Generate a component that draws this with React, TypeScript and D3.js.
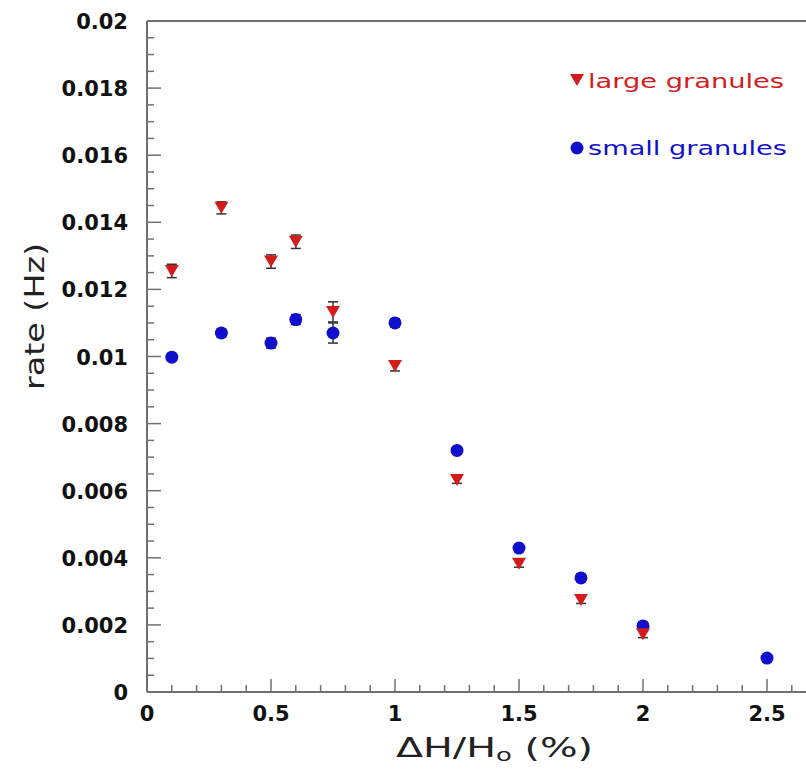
import React from "react";
import * as d3 from "d3";

const xLarge = [0.1, 0.3, 0.5, 0.6, 0.75, 1.0, 1.25, 1.5, 1.75, 2.0];
const yLarge = [0.01255, 0.01443, 0.01283, 0.01342, 0.01133, 0.00972, 0.00632, 0.00382, 0.00274, 0.00172];
const eLarge = [0.0002, 0.00018, 0.0002, 0.0002, 0.0003, 0.00015, 0.0001, 0.0001, 0.0001, 0.0001];

const xSmall = [0.1, 0.3, 0.5, 0.6, 0.75, 1.0, 1.25, 1.5, 1.75, 2.0, 2.5];
const ySmall = [0.00998, 0.0107, 0.0104, 0.0111, 0.0107, 0.011, 0.0072, 0.00429, 0.0034, 0.00197, 0.00101];
const eSmall = [0.0001, 0.00012, 0.00015, 0.00015, 0.0003, 0.00012, 0.0001, 0.0001, 0.0001, 0.0001, 0.0001];

const xTickValues = [0, 0.5, 1, 1.5, 2, 2.5];
const xTickLabels = ["0", "0.5", "1", "1.5", "2", "2.5"];
const yTickValues = [0, 0.002, 0.004, 0.006, 0.008, 0.01, 0.012, 0.014, 0.016, 0.018, 0.02];
const yTickLabels = ["0", "0.002", "0.004", "0.006", "0.008", "0.01", "0.012", "0.014", "0.016", "0.018", "0.02"];

const legendLabels = ["large granules", "small granules"];

const W = 806;
const H = 770;
const RED = "#d41c1c";
const BLUE = "#1010cc";
const AXIS = "#707070";

export default function App() {
  const x = d3.scaleLinear().domain([0, 2.7]).range([147, 147 + 2.7 * 248]);
  const y = d3.scaleLinear().domain([0, 0.02]).range([692, 21]);

  const xMinor = d3.range(0, 27).map((i) => i / 10);
  const yMinor = d3.range(0, 41).map((i) => i * 0.0005);

  const tri = (cx: number, cy: number, w = 14, h = 12) =>
    `M${cx - w / 2},${cy - h / 2}L${cx + w / 2},${cy - h / 2}L${cx},${cy + h / 2}Z`;

  const font = "'DejaVu Sans', 'Liberation Sans', sans-serif";

  return (
    <svg
      width={W}
      height={H}
      style={{ position: "absolute", left: 0, top: 0, background: "#fff" }}
    >
      <rect x={0} y={0} width={W} height={H} fill="#fff" />
      {/* frame */}
      <line x1={x(0)} x2={W} y1={y(0)} y2={y(0)} stroke={AXIS} strokeWidth={2} />
      <line x1={x(0)} x2={W} y1={y(0.02)} y2={y(0.02)} stroke={AXIS} strokeWidth={2} />
      <line x1={x(0)} x2={x(0)} y1={y(0)} y2={y(0.02)} stroke={AXIS} strokeWidth={2} />

      {/* x ticks */}
      {xMinor.map((v, i) => {
        const major = i % 5 === 0;
        return (
          <line
            key={"xm" + i}
            x1={x(v)}
            x2={x(v)}
            y1={y(0)}
            y2={y(0) - (major ? 13 : 7)}
            stroke={AXIS}
            strokeWidth={1.5}
          />
        );
      })}
      {/* y ticks */}
      {yMinor.map((v, i) => {
        const major = i % 4 === 0;
        return (
          <line
            key={"ym" + i}
            x1={x(0)}
            x2={x(0) + (major ? 14 : 7)}
            y1={y(v)}
            y2={y(v)}
            stroke={AXIS}
            strokeWidth={1.5}
          />
        );
      })}

      {/* x tick labels */}
      {xTickValues.map((v, i) => (
        <text
          key={"xl" + i}
          x={x(v)}
          y={721}
          textAnchor="middle"
          fontFamily={font}
          fontWeight="bold"
          fontSize={21}
          fill="#111"
        >
          {xTickLabels[i]}
        </text>
      ))}
      {/* y tick labels */}
      {yTickValues.map((v, i) => (
        <text
          key={"yl" + i}
          x={128}
          y={y(v) + 8}
          textAnchor="end"
          fontFamily={font}
          fontWeight="bold"
          fontSize={21}
          fill="#111"
        >
          {yTickLabels[i]}
        </text>
      ))}

      {/* axis titles */}
      <text
        x={396}
        y={757}
        fontFamily={font}
        fontSize={26}
        fill="#222"
        textLength={197}
        lengthAdjust="spacingAndGlyphs"
      >
        ΔH/H<tspan fontSize={17} dy={4}>o</tspan>
        <tspan dy={-4}> (%)</tspan>
      </text>
      <text
        transform={`translate(44, 390) rotate(-90)`}
        fontFamily={font}
        fontSize={27}
        fill="#222"
        textLength={147}
        lengthAdjust="spacingAndGlyphs"
      >
        rate (Hz)
      </text>

      {/* error bars */}
      {xLarge.map((v, i) => {
        const cx = x(v);
        const y1 = y(yLarge[i] - eLarge[i]);
        const y2 = y(yLarge[i] + eLarge[i]);
        return (
          <g key={"el" + i} stroke="#333" strokeWidth={1.5}>
            <line x1={cx} x2={cx} y1={y1} y2={y2} />
            <line x1={cx - 5} x2={cx + 5} y1={y1} y2={y1} />
            <line x1={cx - 5} x2={cx + 5} y1={y2} y2={y2} />
          </g>
        );
      })}
      {xSmall.map((v, i) => {
        const cx = x(v);
        const y1 = y(ySmall[i] - eSmall[i]);
        const y2 = y(ySmall[i] + eSmall[i]);
        return (
          <g key={"es" + i} stroke="#333" strokeWidth={1.5}>
            <line x1={cx} x2={cx} y1={y1} y2={y2} />
            <line x1={cx - 5} x2={cx + 5} y1={y1} y2={y1} />
            <line x1={cx - 5} x2={cx + 5} y1={y2} y2={y2} />
          </g>
        );
      })}

      {/* markers */}
      {xSmall.map((v, i) => (
        <circle key={"cs" + i} cx={x(v)} cy={y(ySmall[i])} r={6.5} fill={BLUE} />
      ))}
      {xLarge.map((v, i) => (
        <path key={"tl" + i} d={tri(x(v), y(yLarge[i]))} fill={RED} />
      ))}

      {/* legend */}
      <path d={tri(577, 80)} fill={RED} />
      <text
        x={588}
        y={88}
        fontFamily={font}
        fontSize={20}
        fill={RED}
        textLength={196}
        lengthAdjust="spacingAndGlyphs"
      >
        {legendLabels[0]}
      </text>
      <circle cx={577} cy={148} r={6.5} fill={BLUE} />
      <text
        x={588}
        y={155}
        fontFamily={font}
        fontSize={20}
        fill={BLUE}
        textLength={199}
        lengthAdjust="spacingAndGlyphs"
      >
        {legendLabels[1]}
      </text>
    </svg>
  );
}
